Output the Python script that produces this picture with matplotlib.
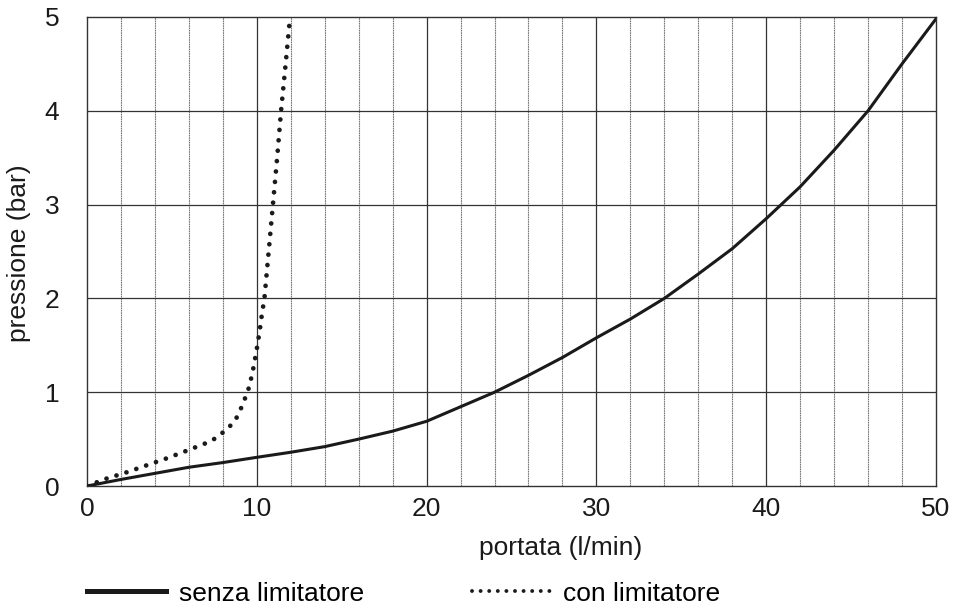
import numpy as np
import matplotlib.pyplot as plt
from matplotlib.lines import Line2D

plt.rcParams['font.family'] = ['Liberation Sans', 'DejaVu Sans']

# senza limitatore
x_senza = [0, 2, 4, 6, 8, 10, 12, 14, 16, 18, 20, 22, 24, 26, 28, 30, 32, 34,
           36, 38, 40, 42, 44, 45, 46, 47, 48, 49, 50]
p_senza = [0, 0.07, 0.135, 0.2, 0.25, 0.306, 0.36, 0.42, 0.5, 0.585, 0.69, 0.845,
           1.0, 1.18, 1.37, 1.58, 1.78, 2.0, 2.26, 2.53, 2.85, 3.19, 3.58, 3.79,
           4.0, 4.25, 4.5, 4.74, 4.98]
# con limitatore
x_con = [0, 1.16, 2.33, 3.5, 4.69, 5.87, 7.05, 7.48, 7.93, 8.38, 8.76, 9.03,
         9.25, 9.46, 9.62, 9.76, 9.87, 9.99, 10.09, 10.19, 10.27, 10.37, 10.45,
         10.7, 10.95, 11.2, 11.43, 11.7, 11.96]
p_con = [0, 0.08, 0.146, 0.22, 0.295, 0.376, 0.46, 0.5, 0.56, 0.63, 0.71, 0.81,
         0.91, 1.0, 1.11, 1.22, 1.33, 1.45, 1.56, 1.68, 1.79, 1.91, 2.0,
         2.5, 3.0, 3.5, 4.0, 4.5, 5.0]

fs = 19
ink = '#1a1a1a'

fig = plt.figure(figsize=(9.59, 6.07), dpi=100)
ax = fig.add_axes([0.0907, 0.1993, 0.8853, 0.7727])

# grid
for xv in np.arange(2, 50, 2):
    if xv % 10 == 0:
        ax.axvline(xv, color='#333333', lw=0.9, zorder=1)
    else:
        ax.axvline(xv, color='#777777', lw=0.8, ls=(0, (1.5, 0.6)), zorder=1)
for yv in range(1, 5):
    ax.axhline(yv, color='#333333', lw=0.9, zorder=1)

ax.plot(x_senza, p_senza, color=ink, lw=2.2, zorder=3, solid_joinstyle='round')
ax.plot(x_con, p_con, color=ink, lw=3.4, ls=(0, (0.01, 2.2)),
        dash_capstyle='round', zorder=3)

ax.set_xlim(0, 50)
ax.set_ylim(0, 5)
ax.set_xticks([0, 10, 20, 30, 40, 50])
ax.set_yticks([0, 1, 2, 3, 4, 5])
ax.tick_params(length=0, labelsize=fs, colors=ink)
ax.tick_params(axis='x', pad=8)
ax.tick_params(axis='y', pad=20)
for s in ax.spines.values():
    s.set_color('#333333')
    s.set_linewidth(1.0)

ax.set_xlabel('portata (l/min)', fontsize=fs, color=ink)
ax.xaxis.set_label_coords(0.558, -0.106)
ax.set_ylabel('pressione (bar)', fontsize=fs, color=ink)
ax.yaxis.set_label_coords(-0.066, 0.497)

h_solid = Line2D([], [], color=ink, lw=3.6)
h_dot = Line2D([], [], color=ink, lw=2.8, ls=(0, (0.01, 2.2)),
               dash_capstyle='round')
leg1 = fig.legend([h_solid], ['senza limitatore'], loc='center left',
                  bbox_to_anchor=(0.0907, 0.022), frameon=False, fontsize=fs,
                  borderpad=0, borderaxespad=0, handlelength=3.0,
                  handletextpad=0.5)
leg2 = fig.legend([h_dot], ['con limitatore'], loc='center left',
                  bbox_to_anchor=(0.492, 0.022), frameon=False, fontsize=fs,
                  borderpad=0, borderaxespad=0, handlelength=3.15,
                  handletextpad=0.3)

fig.savefig('out.png', dpi=100)
